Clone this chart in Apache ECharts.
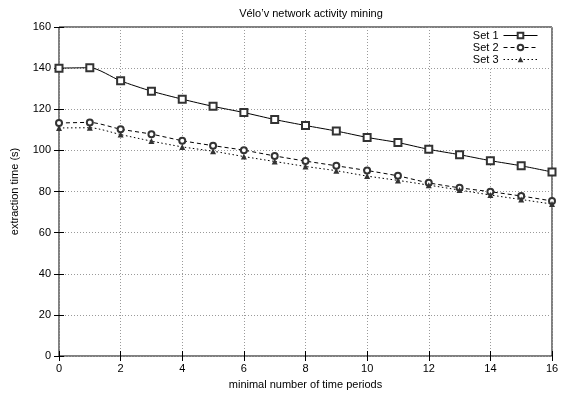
<!DOCTYPE html>
<html><head><meta charset="utf-8">
<script src="https://cdn.jsdelivr.net/npm/echarts@6/dist/echarts.min.js"></script>
<style>html,body{margin:0;padding:0;background:#fff}#c{width:562px;height:396px}</style>
</head><body><div id="c"></div>
<script>
var periods = [0,1,2,3,4,5,6,7,8,9,10,11,12,13,14,15,16];
var set1 = [140, 140.2, 133.8, 128.8, 124.9, 121.4, 118.4, 115, 112.1, 109.4, 106.3, 103.8, 100.5, 97.9, 95, 92.5, 89.5];
var set2 = [113.3, 113.6, 110.3, 107.9, 104.7, 102.3, 100.1, 97.3, 94.8, 92.5, 90.2, 87.6, 84.2, 81.8, 79.9, 77.8, 75.4];
var set3 = [110.9, 111, 107.7, 104.5, 101.7, 99.6, 97, 94.6, 92.2, 90.1, 87.5, 85.4, 83.1, 80.7, 78.3, 76.1, 73.9];
var seriesNames = ['Set 1', 'Set 2', 'Set 3'];
var titleText = 'Vélo\u2019v network activity mining';
var xName = 'minimal number of time periods';
var yName = 'extraction time (s)';

function pairs(v){ return periods.map(function(p,i){ return [p, v[i]]; }); }
var font = 'Liberation Sans, Arial, Helvetica, sans-serif';
var chart = echarts.init(document.getElementById('c'), null, {renderer:'canvas'});
var splitLine = {show:true, lineStyle:{color:'#9a9a9a', type:[1,2], width:1}};
function baseAxis(pos, showLabel, grid){
  return {
    type:'value', position: pos,
    axisLine:{show:false},
    axisTick:{show:true, inside:true, length:5, lineStyle:{color:'#000'}},
    axisLabel:{show:showLabel, color:'#000', fontSize:11, fontFamily:font},
    splitLine: grid ? splitLine : {show:false}
  };
}
var xBottom = Object.assign(baseAxis('bottom',true,true), {min:0,max:16,interval:2,
  name:xName, nameLocation:'middle', nameGap:23, nameTextStyle:{color:'#000',fontSize:11,fontFamily:font}});
xBottom.axisLabel.margin = 7;
var xTop = Object.assign(baseAxis('top',false,false), {min:0,max:16,interval:2});
var yLeft = Object.assign(baseAxis('left',true,true), {min:0,max:160,interval:20,
  name:yName, nameLocation:'middle', nameGap:39, nameRotate:90, nameTextStyle:{color:'#000',fontSize:11,fontFamily:font}});
yLeft.axisLabel.margin = 8;
var yRight = Object.assign(baseAxis('right',false,false), {min:0,max:160,interval:20});

chart.setOption({
  animation:false,
  backgroundColor:'#fff',
  title:{text:titleText, left:306, top:3, textAlign:'center',
    textStyle:{color:'#000', fontSize:11, fontWeight:'normal', fontFamily:font}},
  grid:{left:59, right:10, top:27, bottom:40, show:true, borderColor:'#000', borderWidth:1, backgroundColor:'transparent'},
  legend:{orient:'vertical', right:21, top:28, align:'right', itemWidth:34, itemHeight:7, itemGap:1,
    padding:[2,3,2,4], backgroundColor:'#fff',
    lineStyle:{width:1}, itemStyle:{borderWidth:1},
    textStyle:{color:'#000', fontSize:11, lineHeight:11, fontFamily:font}, data:seriesNames},
  xAxis:[xBottom, xTop],
  yAxis:[yLeft, yRight],
  series:[
    {name:seriesNames[0], type:'line', data:pairs(set1), smooth:0.25, symbol:'emptyRect', symbolSize:7,
      lineStyle:{color:'#000', width:1, type:'solid'}, itemStyle:{color:'#333', borderWidth:1}},
    {name:seriesNames[1], type:'line', data:pairs(set2), smooth:0.25, symbol:'emptyCircle', symbolSize:6,
      lineStyle:{color:'#000', width:1, type:[4,3]}, itemStyle:{color:'#333', borderWidth:1}},
    {name:seriesNames[2], type:'line', data:pairs(set3), smooth:0.25, symbol:'triangle', symbolSize:6,
      lineStyle:{color:'#000', width:1, type:[1.5,2.5]}, itemStyle:{color:'#333'}}
  ]
});
</script></body></html>
